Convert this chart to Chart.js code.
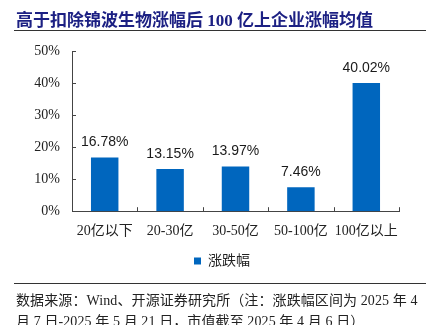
<!DOCTYPE html>
<html>
<head>
<meta charset="utf-8">
<script src="https://cdn.jsdelivr.net/npm/chart.js@4/dist/chart.umd.min.js"></script>
<style>
  body { margin: 0; width: 434px; height: 325px; overflow: hidden; background: #fff; position: relative; }
  #title { position: absolute; left: 16px; top: 6px; font: bold 17px "Liberation Serif", "Noto Sans CJK SC", serif; color: #1c2083; white-space: nowrap; }
  .rule { position: absolute; left: 14px; width: 412px; height: 1px; background: #333; }
  #chartBox { position: absolute; left: 0; top: 0; width: 434px; height: 325px; }
  .note { position: absolute; left: 16px; font: 14px "Liberation Serif", "Noto Sans CJK SC", serif; color: #222; white-space: nowrap; letter-spacing: 0.1px; }
</style>
</head>
<body>
<div id="chartBox"><canvas id="barChart" width="434" height="325"></canvas></div>
<div id="title">高于扣除锦波生物涨幅后 100 亿上企业涨幅均值</div>
<div class="rule" style="top:30px"></div>
<div class="rule" style="top:283px"></div>
<div class="note" style="top:289px">数据来源：Wind、开源证券研究所（注：涨跌幅区间为 2025 年 4</div>
<div class="note" style="top:310px">月 7 日-2025 年 5 月 21 日，市值截至 2025 年 4 月 6 日）</div>
<script>
const categories = ["20亿以下", "20-30亿", "30-50亿", "50-100亿", "100亿以上"]
const changeValues = [16.78, 13.15, 13.97, 7.46, 40.02]
const seriesName = "涨跌幅"
const yTicks = [0, 10, 20, 30, 40, 50]

const barColor = "#0066be"
const serifFont = '"Liberation Serif", "Noto Sans CJK SC", serif'

// small ticks pointing into the plot, like the original
const innerTicks = {
    id: 'innerTicks',
    afterDraw(chart) {
        const ctx = chart.ctx
        const x = chart.scales.x
        const y = chart.scales.y
        ctx.save()
        ctx.strokeStyle = "#444"
        ctx.lineWidth = 1
        ctx.beginPath()
        for (let v of yTicks) {
            const py = Math.round(y.getPixelForValue(v)) + 0.5
            ctx.moveTo(x.left, py)
            ctx.lineTo(x.left + 4, py)
        }
        for (let i = 0; i <= categories.length; i++) {
            const px = Math.round(x.getPixelForValue(i - 0.5)) + 0.5
            ctx.moveTo(px, y.bottom)
            ctx.lineTo(px, y.bottom - 4)
        }
        ctx.stroke()
        ctx.restore()
    }
}

const valueLabels = {
    id: 'valueLabels',
    afterDatasetsDraw(chart) {
        const ctx = chart.ctx
        const meta = chart.getDatasetMeta(0)
        ctx.save()
        ctx.font = '14px "Liberation Sans", sans-serif'
        ctx.fillStyle = "#1a1a1a"
        ctx.textAlign = "center"
        ctx.textBaseline = "middle"
        meta.data.forEach((bar, i) => {
            ctx.fillText(changeValues[i].toFixed(2) + "%", bar.x, bar.y - 15)
        })
        ctx.restore()
    }
}

// legend in the original sits a bit right of centre
const nudgeLegend = {
    id: 'nudgeLegend',
    afterLayout(chart) {
        chart.legend.left = 45
    }
}

new Chart(document.getElementById("barChart"), {
    type: 'bar',
    data: {
        labels: categories,
        datasets: [{
            label: seriesName,
            data: changeValues,
            backgroundColor: barColor,
            categoryPercentage: 0.42,
            barPercentage: 1,
        }]
    },
    options: {
        responsive: false,
        animation: false,
        layout: { padding: { left: 0, right: 35, top: 51, bottom: 47 } },
        plugins: {
            legend: {
                position: 'bottom',
                labels: {
                    boxWidth: 7,
                    boxHeight: 7,
                    padding: 2,
                    color: "#222",
                    font: { size: 14, family: serifFont }
                }
            },
            tooltip: { enabled: false }
        },
        scales: {
            x: {
                grid: { display: false, drawTicks: false },
                border: { color: "#444", width: 1 },
                ticks: {
                    color: "#222",
                    padding: 12,
                    autoSkip: false,
                    maxRotation: 0,
                    font: { size: 14, family: serifFont }
                }
            },
            y: {
                min: 0,
                max: 50,
                afterFit: (scale) => { scale.width = 72 },
                grid: { display: false, drawTicks: false },
                border: { color: "#444", width: 1 },
                ticks: {
                    stepSize: 10,
                    padding: 12,
                    color: "#222",
                    font: { size: 14, family: serifFont },
                    callback: (v) => v + "%"
                }
            }
        }
    },
    plugins: [innerTicks, valueLabels, nudgeLegend]
});
</script>
</body>
</html>
